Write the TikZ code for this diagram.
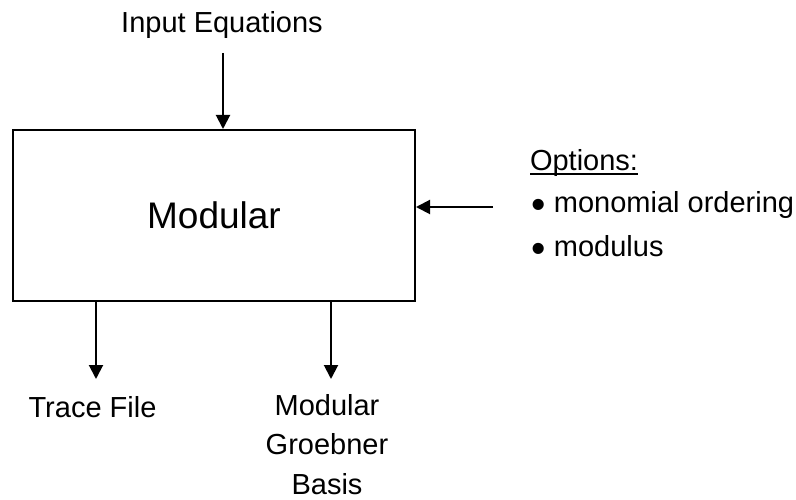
\documentclass[tikz,border=0pt]{standalone}
\usepackage{fontspec}
\setmainfont{Liberation Sans}
\usetikzlibrary{arrows.meta}
\newcommand\ulword[1]{\setbox0\hbox{#1}\rlap{\rule[-4pt]{\wd0}{2pt}}\box0}
\newcommand\blt{\raisebox{-6.1pt}{\fontsize{41}{41}\selectfont•}\hspace{8.6pt}}
\begin{document}
\begin{tikzpicture}[x=1pt,y=-1pt,line width=2pt,>={Triangle[width=14pt,length=14pt]},
  font=\fontsize{29}{39.5}\selectfont,
  lbl/.style={inner sep=0pt,anchor=base},
  blk/.style={draw,minimum width=402pt,minimum height=171pt,inner sep=0pt,font=\fontsize{37}{44}\selectfont}]
  \useasboundingbox (0,0) rectangle (796,500);
  \node[blk] (mod) at (214,215.5) {Modular};
  \node[lbl] (inp) at (222,33) {Input Equations};
  \coordinate (inTop) at (223,53);
  \draw[->] (inTop) -- (inTop |- mod.north);
  % options on the right
  \node[lbl,anchor=base west] (opt) at (529,171) {\ulword{Options:}};
  \node[lbl,anchor=base west] (ord) at (530,212.7) {\blt monomial ordering};
  \node[lbl,anchor=base west] (mdl) at (530,256) {\blt modulus};
  \coordinate (optTail) at (493,207);
  \draw[->] (optTail) -- (optTail -| mod.east);
  % outputs
  \coordinate (trEnd) at (96,379);
  \coordinate (gbEnd) at (331,379);
  \foreach \c in {trEnd,gbEnd}{\draw[->] (\c |- mod.south) -- (\c);}
  \node[lbl] (tr) at (92.5,417) {Trace File};
  \node[lbl,align=center] (gb) at (327,494) {Modular\\Groebner\\Basis};
\end{tikzpicture}
\end{document}
